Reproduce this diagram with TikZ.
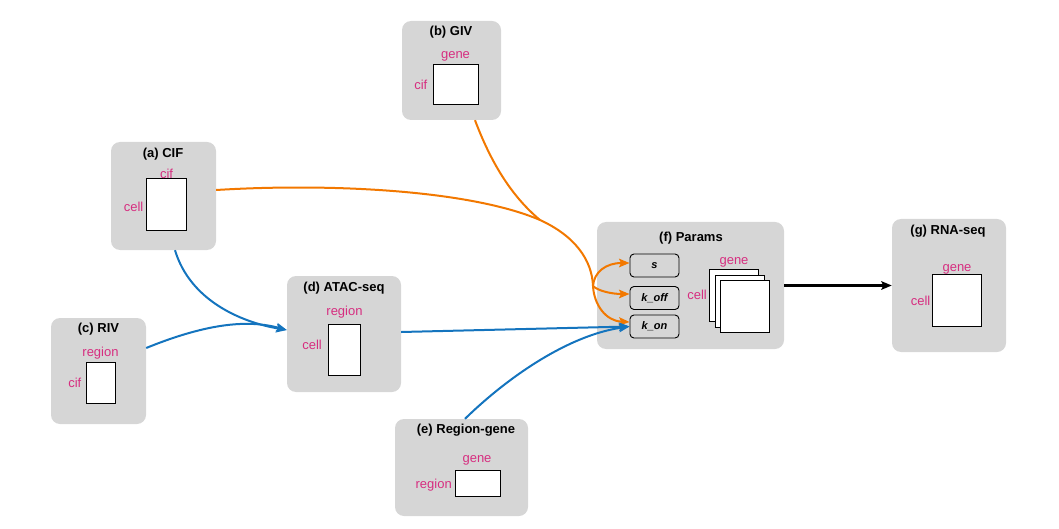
\documentclass[tikz,border=0pt]{standalone}
\usepackage{fontspec}
\setmainfont{Liberation Sans}
\usetikzlibrary{arrows.meta,calc}
\definecolor{panelgray}{RGB}{214,214,214}
\definecolor{dimpink}{RGB}{214,46,128}
\definecolor{flowblue}{RGB}{20,116,190}
\definecolor{floworange}{RGB}{242,120,0}
\begin{document}
\begin{tikzpicture}[x=1pt,y=-1pt,
  panel/.style={fill=panelgray, rounded corners=9pt, inner sep=0pt},
  mat/.style={draw=black, fill=white, line width=1pt, inner sep=0pt},
  ttl/.style={font=\bfseries\fontsize{13}{15}\selectfont, anchor=base, inner sep=0pt},
  dim/.style={text=dimpink, font=\fontsize{13}{15}\selectfont, inner sep=0pt},
  dimtop/.style={dim, anchor=base},
  dimleft/.style={dim, anchor=base east},
  prm/.style={draw=black, rounded corners=4pt, line width=0.9pt, minimum width=49pt,
    minimum height=23pt, inner sep=0pt, font=\bfseries\itshape\fontsize{11}{13}\selectfont},
  flow/.style={line width=2pt, -{Stealth[length=10.5pt,width=8.5pt,inset=2pt]}},
  feed/.style={line width=2pt}
]
\useasboundingbox (0,0) rectangle (1059,529);

% ---- panels ----
\node[panel, minimum width=105pt, minimum height=108pt] (a) at (163.5,196) {};
\node[panel, minimum width=99pt,  minimum height=99pt]  (b) at (451.5,70.5) {};
\node[panel, minimum width=95pt,  minimum height=106pt] (c) at (98.5,371) {};
\node[panel, minimum width=114pt, minimum height=116pt] (d) at (344,334) {};
\node[panel, minimum width=133pt, minimum height=97pt]  (e) at (461.5,467.5) {};
\node[panel, minimum width=187pt, minimum height=127pt] (f) at (690.5,285.5) {};
\node[panel, minimum width=114pt, minimum height=133pt] (g) at (949,285.5) {};

% ---- titles ----
\node[ttl] (ta) at (163,157.5) {(a) CIF};
\node[ttl] (tb) at (451,36) {(b) GIV};
\node[ttl] (tc) at (98.5,332.5) {(c) RIV};
\node[ttl] (td) at (344,291) {(d) ATAC-seq};
\node[ttl] (te) at (466,433.5) {(e) Region-gene};
\node[ttl] (tf) at (691,242) {(f) Params};
\node[ttl] (tg) at (948,234) {(g) RNA-seq};

% ---- matrices ----
\node[mat, minimum width=40pt, minimum height=52pt] (ma) at (166,205) {};
\node[mat, minimum width=45pt, minimum height=40pt] (mb) at (455.5,85) {};
\node[mat, minimum width=29pt, minimum height=41pt] (mc) at (100.5,382.5) {};
\node[mat, minimum width=32pt, minimum height=51pt] (md) at (344,349.5) {};
\node[mat, minimum width=45pt, minimum height=26pt] (me) at (477.5,483) {};
\node[mat, minimum width=49pt, minimum height=52pt] (mf1) at (733.5,295) {};
\node[mat, minimum width=49pt, minimum height=52pt] (mf2) at (739.5,301) {};
\node[mat, minimum width=49pt, minimum height=52pt] (mf3) at (744.5,306) {};
\node[mat, minimum width=49pt, minimum height=52pt] (mg) at (956.5,300) {};

% ---- dimension labels ----
\node[dimtop]  (ca) at (166.5,179) {cif};
\node[dimleft] (ra) at (143.5,212) {cell};
\node[dimtop]  (cb) at (455.5,58.5) {gene};
\node[dimleft] (rb) at (427.5,90) {cif};
\node[dimtop]  (cc) at (100.5,356) {region};
\node[dimleft] (rc) at (81.5,387.5) {cif};
\node[dimtop]  (cd) at (344.5,315.5) {region};
\node[dimleft] (rd) at (322,349) {cell};
\node[dimtop]  (ce) at (477,462.5) {gene};
\node[dimleft] (re) at (452,488.5) {region};
\node[dimtop]  (cf) at (734,265) {gene};
\node[dimleft] (rf) at (707,299) {cell};
\node[dimtop]  (cg) at (957,271) {gene};
\node[dimleft] (rg) at (930.5,305) {cell};

% ---- kinetic parameters ----
\node[prm] (s)    at (654.5,265.5) {s};
\node[prm] (koff) at (654.5,298)   {k\_off};
\node[prm] (kon)  at (654.5,326.5) {k\_on};

% ---- orange flows: CIF and GIV merge, then feed the parameters ----
\coordinate (M) at (540,220);
\coordinate (J) at (593,286);
\draw[feed, floworange] ([yshift=6pt]a.east) .. controls (330,183) and (470,190) .. (M);
\draw[feed, floworange] ([xshift=23.5pt]b.south) .. controls (490,160) and (510,195) .. (M);
\draw[feed, floworange] (M) .. controls (575,236) and (592,260) .. (J);
\draw[flow, floworange] (J) .. controls (594,272) and (606,263) .. ([yshift=2.5pt]s.west);
\draw[flow, floworange] (J) .. controls (598,291) and (612,294) .. ([yshift=4pt]koff.west);
\draw[flow, floworange] (J) .. controls (594,305) and (606,321) .. ([yshift=4.5pt]kon.west);

% ---- blue flows ----
\draw[flow, flowblue] ([xshift=11.5pt]a.south) .. controls (190,300) and (240,322) .. ([yshift=4pt]d.west);
\draw[flow, flowblue] ([yshift=23pt]c.east) .. controls (210,322) and (250,320) .. ([yshift=4pt]d.west);
\draw[flow, flowblue] ([yshift=2pt]d.east) -- (kon.west);
\draw[flow, flowblue] ([xshift=3.5pt]e.north) .. controls (510,375) and (570,335) .. (kon.west);

% ---- output ----
\draw[line width=2.2pt, -{Stealth[length=10.5pt,width=8.5pt,inset=2pt]}] (f.east) -- (g.west);
\end{tikzpicture}
\end{document}
